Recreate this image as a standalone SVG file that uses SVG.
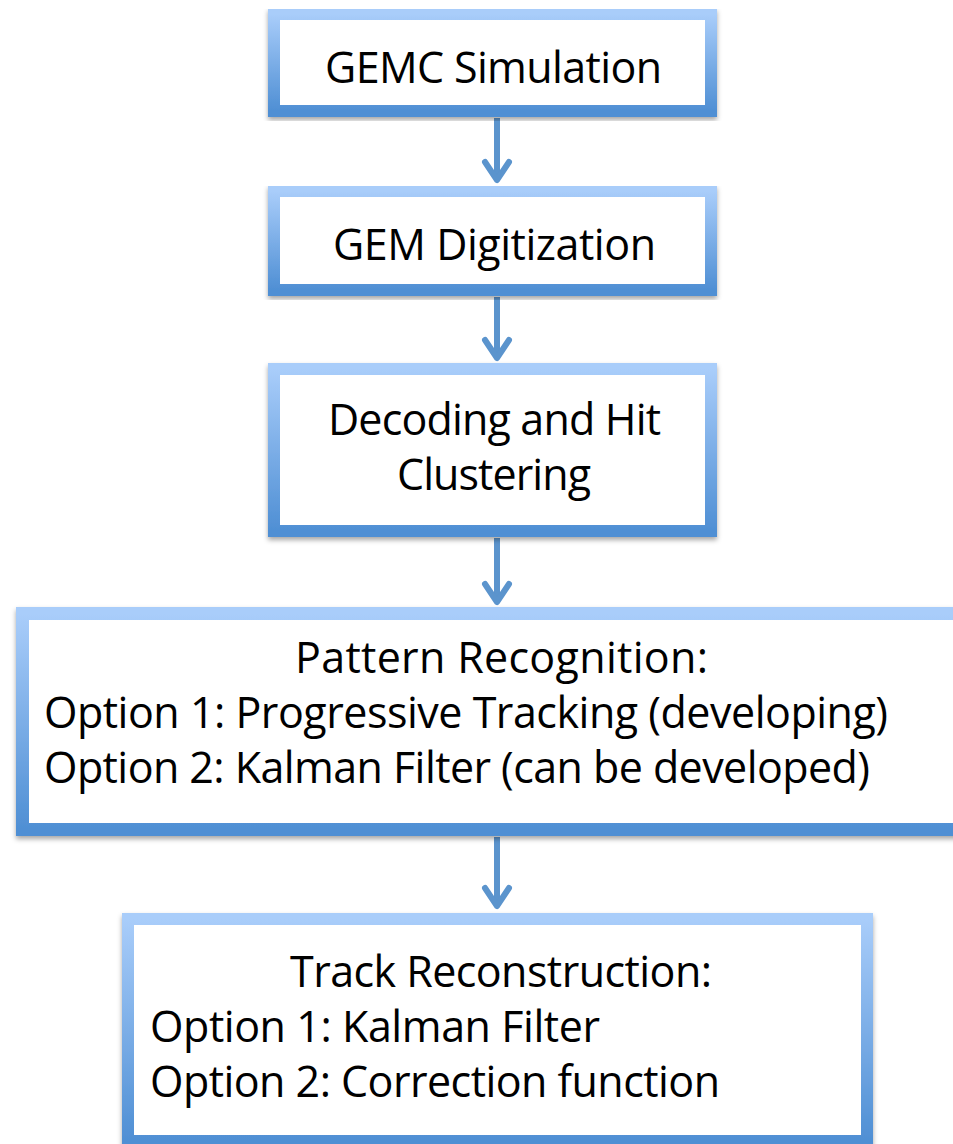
<svg xmlns="http://www.w3.org/2000/svg" width="953" height="1144" viewBox="0 0 953 1144">
<defs>
<linearGradient id="bg" x1="0" y1="0" x2="0" y2="1">
<stop offset="0" stop-color="#a9cdfa"/>
<stop offset="1" stop-color="#4f8fd4"/>
</linearGradient>
<filter id="sh" x="-5%" y="-5%" width="110%" height="115%">
<feDropShadow dx="0" dy="3" stdDeviation="2.5" flood-color="#000" flood-opacity="0.35"/>
</filter>
<marker id="ah" markerUnits="userSpaceOnUse" markerWidth="40" markerHeight="40" viewBox="-25 -20 30 40" refX="0" refY="0" orient="auto">
<path d="M-18,-12 L0,0 L-18,12" fill="none" stroke="#5b94cd" stroke-width="6" stroke-linecap="round" stroke-linejoin="round"/>
</marker>
</defs>
<style>
.box{fill:#fff;stroke:url(#bg);filter:url(#sh)}
.t{font-family:"Open Sans","Liberation Sans",sans-serif;font-size:43px;fill:#000}
.c{text-anchor:middle}
.conn{stroke:#5b94cd;stroke-width:6;fill:none;marker-end:url(#ah)}
</style>
<rect width="953" height="1144" fill="#fff"/>
<g id="connectors">
<line class="conn" x1="497" y1="118" x2="497" y2="180"/>
<line class="conn" x1="497" y1="297" x2="497" y2="358"/>
<line class="conn" x1="497" y1="538" x2="497" y2="602"/>
<line class="conn" x1="497" y1="837" x2="497" y2="906"/>
</g>
<g id="node1">
<rect class="box" x="274" y="14" width="437" height="97" stroke-width="12"/>
<text class="t c" x="493.5" y="83" textLength="337">GEMC Simulation</text>
</g>
<g id="node2">
<rect class="box" x="274" y="191" width="437" height="99" stroke-width="12"/>
<text class="t c" x="494.5" y="260" textLength="323">GEM Digitization</text>
</g>
<g id="node3">
<rect class="box" x="274" y="369" width="437" height="162" stroke-width="12"/>
<text class="t c" x="494.5" y="435" textLength="333">Decoding and Hit</text>
<text class="t c" x="494" y="490" textLength="194">Clustering</text>
</g>
<g id="node4">
<rect class="box" x="22.5" y="613.5" width="945" height="216" stroke-width="13"/>
<text class="t c" x="501.5" y="673" textLength="413">Pattern Recognition:</text>
<text class="t" x="44" y="728" textLength="844">Option 1: Progressive Tracking (developing)</text>
<text class="t" x="44" y="783" textLength="826">Option 2: Kalman Filter (can be developed)</text>
</g>
<g id="node5">
<rect class="box" x="128" y="919" width="739" height="222" stroke-width="12"/>
<text class="t c" x="501" y="987" textLength="422">Track Reconstruction:</text>
<text class="t" x="150" y="1042" textLength="450">Option 1: Kalman Filter</text>
<text class="t" x="150" y="1097" textLength="570">Option 2: Correction function</text>
</g>
</svg>
